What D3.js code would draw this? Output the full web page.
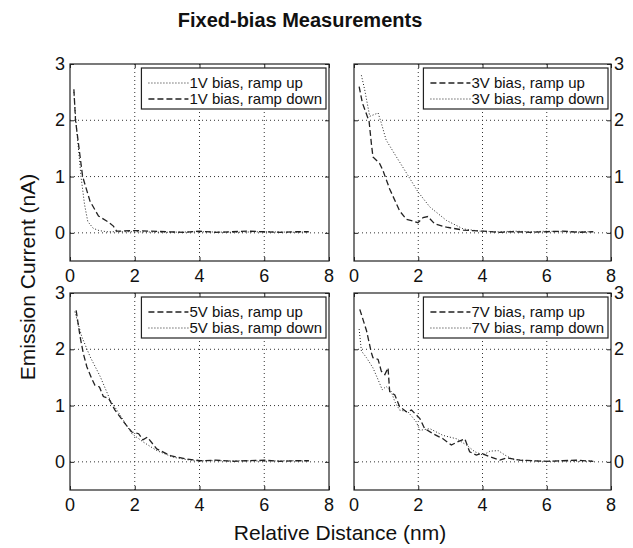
<!DOCTYPE html>
<html>
<head>
<meta charset="utf-8">
<script src="https://cdn.jsdelivr.net/npm/d3@7"></script>
<style>
  body { margin: 0; background: #fff; }
  text { font-family: Arial, "Liberation Sans", sans-serif; fill: #111; }
</style>
</head>
<body>
<div id="chart-area"></div>
<script>
const svgWidth = 633;
const svgHeight = 548;

// tick values
var xTicks = [0, 2, 4, 6, 8];
var yTicks = [0, 1, 2, 3];

// 1V panel
var v1Up = [[0.12,2.5],[0.18,2.0],[0.34,1.0],[0.45,0.5],[0.55,0.2],[0.72,0.08],[0.9,0.04],[1.14,0.02],[2,0.02],[3,0.01],[4,0.02],[5,0.01],[6,0.02],[7,0.01],[7.37,0.02]];
var v1Down = [[0.12,2.55],[0.17,2.0],[0.39,1.0],[0.62,0.56],[0.88,0.3],[1.19,0.19],[1.34,0.12],[1.44,0.03],[2,0.04],[2.5,0.03],[3,0.02],[3.5,0.01],[4,0.03],[4.5,0.01],[5,0.02],[5.5,0.03],[6,0.02],[6.5,0.01],[7,0.02],[7.37,0.02]];
// 3V panel
var v3Up = [[0.16,2.6],[0.26,2.31],[0.47,1.98],[0.54,1.59],[0.59,1.35],[0.8,1.23],[0.9,1.11],[1.11,0.78],[1.42,0.39],[1.63,0.24],[1.84,0.21],[1.99,0.18],[2.15,0.27],[2.3,0.29],[2.51,0.16],[2.88,0.1],[3.4,0.05],[4.02,0.03],[4.5,0.01],[5,0.02],[5.5,0.01],[6,0.02],[6.5,0.03],[7,0.01],[7.45,0.02]];
var v3Down = [[0.23,2.8],[0.33,2.55],[0.49,2.07],[0.75,2.13],[0.85,1.95],[1.0,1.65],[1.32,1.35],[1.68,1.02],[1.99,0.73],[2.36,0.46],[2.88,0.22],[3.4,0.07],[3.92,0.03],[4.5,0.02],[5,0.03],[5.5,0.02],[6,0.03],[6.5,0.02],[7,0.02],[7.4,0.02]];
// 5V panel
var v5Up = [[0.19,2.69],[0.31,2.23],[0.41,1.93],[0.52,1.69],[0.67,1.48],[0.77,1.36],[0.91,1.33],[1.03,1.16],[1.19,1.13],[1.39,0.92],[1.7,0.68],[1.91,0.53],[2.12,0.5],[2.25,0.39],[2.39,0.44],[2.68,0.23],[3.1,0.11],[3.61,0.05],[4.02,0.02],[4.5,0.03],[5,0.01],[5.5,0.02],[6,0.03],[6.5,0.01],[7,0.02],[7.38,0.02]];
var v5Down = [[0.15,2.67],[0.36,2.23],[0.62,1.87],[0.93,1.52],[1.24,1.1],[1.55,0.83],[1.91,0.5],[2.27,0.35],[2.68,0.2],[3.2,0.08],[3.82,0.02],[4.5,0.02],[5,0.02],[5.5,0.02],[6,0.01],[6.5,0.02],[7,0.02],[7.38,0.02]];
// 7V panel
var v7Up = [[0.18,2.71],[0.39,2.33],[0.54,1.94],[0.59,1.85],[0.75,1.82],[0.85,1.61],[0.96,1.55],[1.06,1.67],[1.11,1.25],[1.27,1.19],[1.42,0.98],[1.63,0.89],[1.79,0.92],[2.05,0.77],[2.2,0.59],[2.46,0.5],[2.77,0.41],[3.03,0.3],[3.24,0.36],[3.45,0.41],[3.6,0.18],[3.81,0.12],[3.97,0.15],[4.23,0.09],[4.54,0.03],[4.75,0.07],[5.16,0.03],[5.6,0.02],[6,0.01],[6.5,0.02],[6.9,0.03],[7.45,0.01]];
var v7Down = [[0.16,2.36],[0.23,1.97],[0.39,1.85],[0.59,1.67],[0.75,1.46],[0.88,1.28],[1.0,1.34],[1.16,1.25],[1.27,1.07],[1.42,0.92],[1.68,0.89],[1.94,0.71],[2.05,0.56],[2.36,0.59],[2.77,0.47],[3.19,0.41],[3.5,0.3],[3.76,0.18],[4.02,0.12],[4.23,0.19],[4.49,0.2],[4.7,0.12],[4.96,0.04],[5.5,0.02],[6,0.01],[6.5,0.02],[7,0.01],[7.4,0.02]];

// legend labels
var legend1 = ["1V bias, ramp up", "1V bias, ramp down"];
var legend3 = ["3V bias, ramp up", "3V bias, ramp down"];
var legend5 = ["5V bias, ramp up", "5V bias, ramp down"];
var legend7 = ["7V bias, ramp up", "7V bias, ramp down"];

var dotted = "1,2", dashed = "6,3";

var panels = [
  {x0:70,  x1:329, y0:64,  y1:261, yside:"left",
   series:[{d:v1Up, dash:dotted}, {d:v1Down, dash:dashed}], legend:legend1},
  {x0:354, x1:611, y0:64,  y1:261, yside:"right",
   series:[{d:v3Up, dash:dashed}, {d:v3Down, dash:dotted}], legend:legend3},
  {x0:70,  x1:329, y0:293, y1:490, yside:"left",
   series:[{d:v5Up, dash:dashed}, {d:v5Down, dash:dotted}], legend:legend5},
  {x0:354, x1:611, y0:293, y1:490, yside:"right",
   series:[{d:v7Up, dash:dashed}, {d:v7Down, dash:dotted}], legend:legend7}
];

var svg = d3.select("#chart-area")
  .append("svg")
    .attr("width", svgWidth)
    .attr("height", svgHeight);

// title
svg.append("text")
  .attr("x", 300).attr("y", 27)
  .attr("text-anchor", "middle")
  .attr("font-size", "20px")
  .attr("font-weight", "bold")
  .text("Fixed-bias Measurements");

// y label
svg.append("text")
  .attr("transform", "translate(35,277) rotate(-90)")
  .attr("text-anchor", "middle")
  .attr("font-size", "21px")
  .text("Emission Current (nA)");

// x label
svg.append("text")
  .attr("x", 340).attr("y", 540)
  .attr("text-anchor", "middle")
  .attr("font-size", "21px")
  .text("Relative Distance (nm)");

panels.forEach(function(p){
  var x = d3.scaleLinear().domain([0, 8]).range([p.x0, p.x1]);
  var y = d3.scaleLinear().domain([-0.5, 3]).range([p.y1, p.y0]);
  var g = svg.append("g");

  // grid
  g.selectAll(".gx").data([2, 4, 6]).enter().append("line")
    .attr("x1", x).attr("x2", x).attr("y1", p.y0).attr("y2", p.y1)
    .attr("stroke", "#333").attr("stroke-width", 1).attr("stroke-dasharray", "1,3");
  g.selectAll(".gy").data([0, 1, 2]).enter().append("line")
    .attr("y1", y).attr("y2", y).attr("x1", p.x0).attr("x2", p.x1)
    .attr("stroke", "#333").attr("stroke-width", 1).attr("stroke-dasharray", "1,3");

  // axes with inward ticks
  var tk = 4;
  g.append("g").attr("transform", "translate(0," + p.y1 + ")")
    .call(d3.axisTop(x).tickValues(xTicks).tickSize(tk).tickFormat(""));
  g.append("g").attr("transform", "translate(0," + p.y0 + ")")
    .call(d3.axisBottom(x).tickValues(xTicks).tickSize(tk).tickFormat(""));
  g.append("g").attr("transform", "translate(" + p.x0 + ",0)")
    .call(d3.axisRight(y).tickValues(yTicks).tickSize(tk).tickFormat(""));
  g.append("g").attr("transform", "translate(" + p.x1 + ",0)")
    .call(d3.axisLeft(y).tickValues(yTicks).tickSize(tk).tickFormat(""));
  g.selectAll(".domain").remove();
  g.selectAll(".tick line").attr("stroke", "#222");

  // tick labels
  g.selectAll(".xl").data(xTicks).enter().append("text")
    .attr("x", x).attr("y", p.y1 + 21)
    .attr("text-anchor", "middle").attr("font-size", "18px")
    .text(function(d){ return d; });
  g.selectAll(".yl").data(yTicks).enter().append("text")
    .attr("x", p.yside == "left" ? p.x0 - 5 : p.x1 + 3)
    .attr("y", function(d){ return y(d) + 6; })
    .attr("text-anchor", p.yside == "left" ? "end" : "start")
    .attr("font-size", "18px")
    .text(function(d){ return d; });

  // curves
  var line = d3.line().x(function(d){ return x(d[0]); }).y(function(d){ return y(d[1]); });
  p.series.forEach(function(s){
    g.append("path")
      .attr("d", line(s.d))
      .attr("fill", "none")
      .attr("stroke", "#222")
      .attr("stroke-width", s.dash == dashed ? 1.3 : 1)
      .attr("stroke-dasharray", s.dash);
  });

  // frame
  g.append("rect")
    .attr("x", p.x0).attr("y", p.y0)
    .attr("width", p.x1 - p.x0).attr("height", p.y1 - p.y0)
    .attr("fill", "none").attr("stroke", "#222").attr("stroke-width", 1.2);

  // legend
  var lg = g.append("g");
  var box = lg.append("rect").attr("fill", "#fff").attr("stroke", "#222").attr("stroke-width", 1.2);
  var texts = [];
  p.legend.forEach(function(lab, i){
    texts.push(lg.append("text").attr("font-size", "15px").attr("x", 48).attr("y", 20 + i * 16).text(lab));
  });
  var tw = d3.max(texts, function(t){ return t.node().getComputedTextLength(); });
  var bw = tw + 52, bh = 41;
  var bx = p.x1 - 3 - bw, by = p.y0 + 4;
  lg.attr("transform", "translate(" + bx + "," + by + ")");
  box.attr("width", bw).attr("height", bh);
  p.series.forEach(function(s, i){
    lg.append("line")
      .attr("x1", 7).attr("x2", 47)
      .attr("y1", 15 + i * 16).attr("y2", 15 + i * 16)
      .attr("stroke", "#222")
      .attr("stroke-width", s.dash == dashed ? 1.3 : 1)
      .attr("stroke-dasharray", s.dash);
  });
});
</script>
</body>
</html>
